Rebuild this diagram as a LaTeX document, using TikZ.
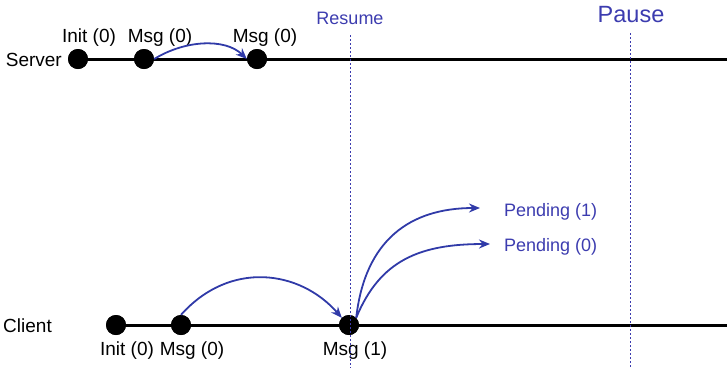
\documentclass[tikz,border=0pt]{standalone}
\usepackage{fontspec}
\setmainfont{Liberation Sans}
\usetikzlibrary{arrows.meta}
\definecolor{arrblue}{RGB}{48,58,168}
\definecolor{lblblue}{RGB}{60,60,175}
\tikzset{
  dot/.style={circle,fill=black,inner sep=0pt,minimum size=20pt},
  tline/.style={line width=3pt,black},
  flow/.style={arrblue,line width=1.8pt,-{Stealth[length=11pt,width=9pt]}},
  vmark/.style={lblblue,dashed,dash pattern=on 2pt off 2pt,line width=0.8pt},
  lbl/.style={font=\fontsize{19}{21}\selectfont,inner sep=0pt},
  blbl/.style={lbl,font=\fontsize{18}{20}\selectfont,text=lblblue},
}
\begin{document}
\begin{tikzpicture}[x=1pt,y=-1pt]
\useasboundingbox (0,0) rectangle (727,368);
% dashed markers
\node[blbl] (resume) at (350,18) {Resume};
\node[blbl,font=\fontsize{23.5}{25}\selectfont] (pause) at (631,15) {Pause};
\coordinate (rtop) at (350,35);
\coordinate (rbot) at (350,368);
\coordinate (ptop) at (630,33);
\coordinate (pbot) at (630,368);
% server
\coordinate (send) at (727,59);
\node[dot] (s1) at (78,59) {};
\node[dot] (s2) at (144,59) {};
\node[dot] (s3) at (257,59) {};
\draw[tline] (s1.center) -- (send);
\node[dot] at (s1) {};
\node[dot] at (s2) {};
\node[dot] at (s3) {};
\node[lbl,anchor=east] (server) at (62,60) {Server};
\node[lbl] (ls1) at (89,38) {Init (0)};
\node[lbl] (ls2) at (160,38) {Msg (0)};
\node[lbl] (ls3) at (265,38) {Msg (0)};
% client
\coordinate (cend) at (727,325);
\node[dot] (c1) at (116,325) {};
\node[dot] (c2) at (181,325) {};
\node[dot] (c3) at (349,325) {};
\draw[tline] (c1.center) -- (cend);
\node[dot] at (c1) {};
\node[dot] at (c2) {};
\node[dot] at (c3) {};
\node[lbl,anchor=east] (client) at (52,326) {Client};
\node[lbl] (lc1) at (127,351) {Init (0)};
\node[lbl] (lc2) at (192,351) {Msg (0)};
\node[lbl] (lc3) at (355,351) {Msg (1)};
\draw[vmark] (rtop) -- (rbot);
\draw[vmark] (ptop) -- (pbot);
% pending
\node[blbl,anchor=west] (p1) at (504,212) {Pending (1)};
\node[blbl,anchor=west] (p0) at (504,247) {Pending (0)};
\coordinate (p1a) at (480,208);
\coordinate (p0a) at (490,244);
% arrows
\draw[flow] (s2.east) .. controls (185,40) and (225,38) .. (s3.west);
\draw[flow] (c2.north) .. controls (230,260) and (300,270) .. (c3.north west);
\draw[flow] (c3.north east) .. controls (365,240) and (410,208) .. (p1a);
\draw[flow] (c3.north east) .. controls (380,260) and (420,244) .. (p0a);
\end{tikzpicture}
\end{document}
